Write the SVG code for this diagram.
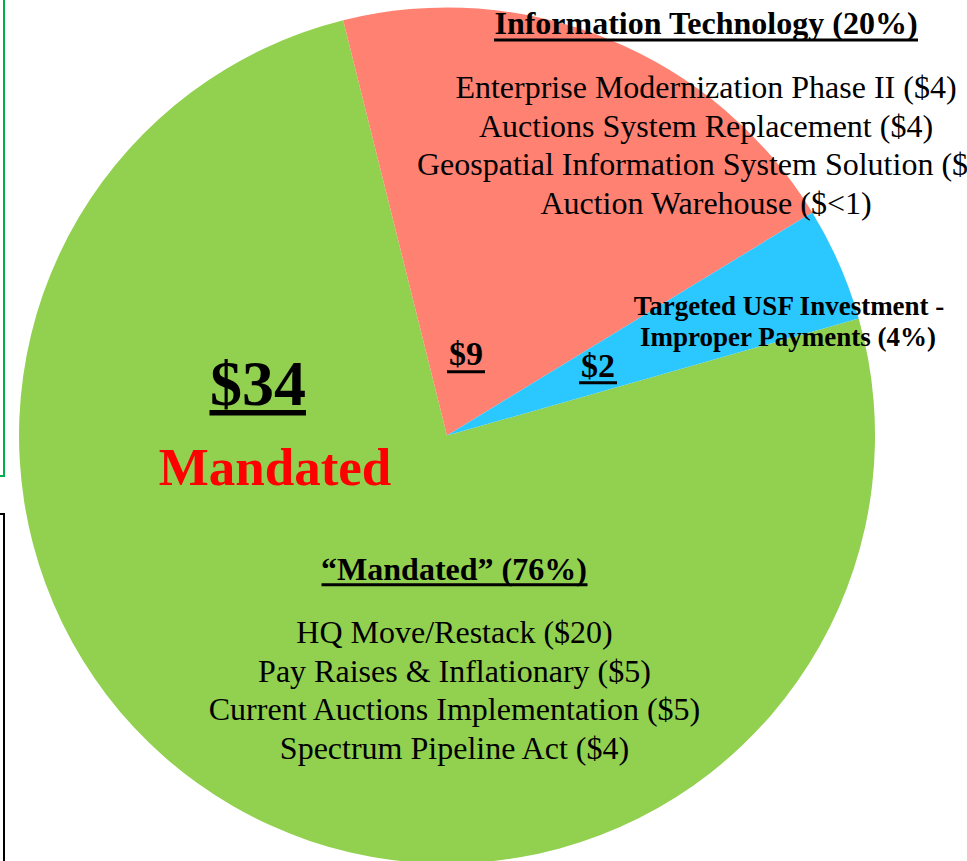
<svg xmlns="http://www.w3.org/2000/svg" width="967" height="861" viewBox="0 0 967 861">
<style>
text{font-family:"Liberation Serif","Times New Roman",serif;fill:#000;}
.c{text-anchor:middle;}
.b{font-weight:bold;}
.item{font-size:32px;}
.ul{stroke:#000;stroke-width:3;}
</style>
<rect x="0" y="0" width="967" height="861" fill="#fff"/>
<g id="side-boxes">
<rect x="-10" y="-10" width="14" height="486" fill="none" stroke="#00B050" stroke-width="2"/>
<rect x="-10" y="514" width="14" height="400" fill="none" stroke="#000" stroke-width="2"/>
</g>
<g id="slice-mandated">
<path d="M447,435.5 L858.7,318.4 A428,428 0 1 1 343.2,20.3 Z" fill="#92D050"/>
</g>
<g id="slice-it">
<path d="M447,435.5 L343.2,20.3 A428,428 0 0 1 812.3,212.4 Z" fill="#FF8172"/>
</g>
<g id="slice-usf">
<path d="M447,435.5 L812.3,212.4 A428,428 0 0 1 858.7,318.4 Z" fill="#2BC7FF"/>
</g>
<g id="label-it">
<text class="c b" x="706" y="34" font-size="32">Information Technology (20%)</text>
<line class="ul" x1="494" y1="40" x2="918" y2="40"/>
<text class="c item" x="706" y="98">Enterprise Modernization Phase II ($4)</text>
<text class="c item" x="706" y="136.5">Auctions System Replacement ($4)</text>
<text class="item" x="417" y="175">Geospatial Information System Solution ($</text>
<text class="c item" x="706" y="213.5">Auction Warehouse ($&lt;1)</text>
<text class="c b" x="466" y="365" font-size="34">$9</text>
<line class="ul" x1="447" y1="371.7" x2="485" y2="371.7"/>
</g>
<g id="label-usf">
<text class="c b" x="789" y="315" font-size="27">Targeted USF Investment -</text>
<text class="c b" x="788" y="346" font-size="27">Improper Payments (4%)</text>
<text class="c b" x="598" y="377" font-size="34">$2</text>
<line class="ul" x1="579" y1="382.7" x2="617" y2="382.7"/>
</g>
<g id="label-mandated">
<text class="c b" x="258" y="405" font-size="64">$34</text>
<line class="ul" x1="209.5" y1="412.7" x2="306" y2="412.7" style="stroke-width:5.5"/>
<text class="c b" x="275" y="485" font-size="53" style="fill:#FF0000">Mandated</text>
<text class="c b" x="454" y="580" font-size="32">“Mandated” (76%)</text>
<line class="ul" x1="321.5" y1="584.7" x2="587.5" y2="584.7"/>
<text class="c item" x="454.5" y="643">HQ Move/Restack ($20)</text>
<text class="c item" x="454.5" y="681.5">Pay Raises &amp; Inflationary ($5)</text>
<text class="c item" x="454.5" y="720">Current Auctions Implementation ($5)</text>
<text class="c item" x="454.5" y="758.5">Spectrum Pipeline Act ($4)</text>
</g>
<g id="connectors"></g>
</svg>
